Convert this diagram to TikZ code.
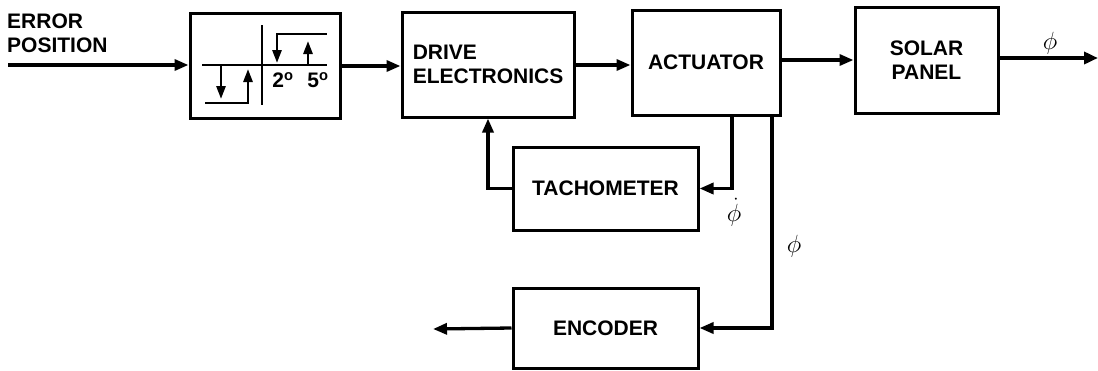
\documentclass[tikz,border=0pt]{standalone}
\usepackage{fontspec}
\setmainfont{Liberation Sans}
\usetikzlibrary{arrows.meta,calc}
\begin{document}
\begin{tikzpicture}[x=1pt,y=-1pt,
  txt/.style={font=\fontsize{21}{24}\selectfont\bfseries},
  blk/.style={draw,line width=3pt,txt,inner sep=0pt},
  sig/.style={line width=3.3pt,-{Triangle[length=14pt,width=11pt]}},
  wire/.style={line width=3.3pt},
  hyl/.style={line width=2.7pt},
  hya/.style={line width=2.7pt,-{Triangle[length=13pt,width=9pt]}},
  sym/.style={inner sep=1pt,font=\fontsize{24}{26}\selectfont}]
\useasboundingbox (0,0) rectangle (1098,370);

% blocks
\node[blk,minimum width=150pt,minimum height=105pt] (hyst) at (265,65.5) {};
\node[blk,minimum width=172pt,minimum height=105pt,align=left] (drive) at (488,64.5) {DRIVE\\ELECTRONICS};
\node[blk,minimum width=148pt,minimum height=105pt] (act) at (706,62.5) {ACTUATOR};
\node[blk,minimum width=143pt,minimum height=106pt,align=center] (solar) at (926.5,60) {SOLAR\\PANEL};
\node[blk,minimum width=185pt,minimum height=83pt] (tach) at (605.5,188.5) {TACHOMETER};
\node[blk,minimum width=185pt,minimum height=80pt] (enc) at (605.5,328) {ENCODER};

% input label
\node[txt,align=left,anchor=north west,inner sep=0pt] (err) at (7,14) {ERROR\\POSITION};

% hysteresis characteristic inside the first block
\coordinate (ax0) at (202,65);
\coordinate (ax1) at (327,65);
\coordinate (ay0) at (262,25);
\coordinate (ay1) at (262,105);
\draw[hyl] (ax0) -- (ax1);
\draw[hyl] (ay0) -- (ay1);
\coordinate (l0) at (205,103);
\coordinate (l1) at (249,103);
\draw[hyl] (l0) -- (l1);
\coordinate (ld0) at (221,65);
\coordinate (ld1) at (221,99);
\draw[hya] (ld0) -- (ld1);
\coordinate (lu0) at (248,103);
\coordinate (lu1) at (248,69);
\draw[hya] (lu0) -- (lu1);
\coordinate (u0) at (276,34);
\coordinate (u1) at (327,34);
\draw[hyl] (u0) -- (u1);
\coordinate (ud0) at (277,34);
\coordinate (ud1) at (277,63);
\draw[hya] (ud0) -- (ud1);
\coordinate (uu0) at (308,65);
\coordinate (uu1) at (308,41);
\draw[hya] (uu0) -- (uu1);
\node[txt,inner sep=0pt] (two) at (283,80) {2\textsuperscript{o}};
\node[txt,inner sep=0pt] (five) at (318,80) {5\textsuperscript{o}};

% forward path
\coordinate (in) at (8,65);
\draw[sig] (in) -- (in -| hyst.west);
\draw[sig] (hyst.east |- 0,66) -- (drive.west |- 0,66);
\draw[sig] (drive.east |- 0,65) -- (act.west |- 0,65);
\draw[sig] (act.east |- 0,60) -- (solar.west |- 0,60);
\coordinate (out) at (1098,58);
\draw[line width=4.2pt,-{Triangle[length=14pt,width=12pt]}] (solar.east |- out) -- (out);
\node[sym] (phiout) at (1050,43) {$\phi$};

% rate feedback through the tachometer
\coordinate (tb) at (act.south -| 732,0);
\draw[wire,-{Triangle[length=14pt,width=11pt]}] (tb) |- (tach.east);
\node[sym] (phidot) at (734,212) {$\dot{\phi}$};
\draw[sig] (tach.west) -| (drive.south);

% position pick-off to the encoder
\coordinate (eb) at (act.south -| 772,0);
\draw[wire,-{Triangle[length=14pt,width=11pt]}] (eb) |- (enc.east);
\node[sym] (phienc) at (794,246) {$\phi$};
\coordinate (encout) at (433,329);
\draw[sig] (enc.west) -- (encout);
\end{tikzpicture}
\end{document}
